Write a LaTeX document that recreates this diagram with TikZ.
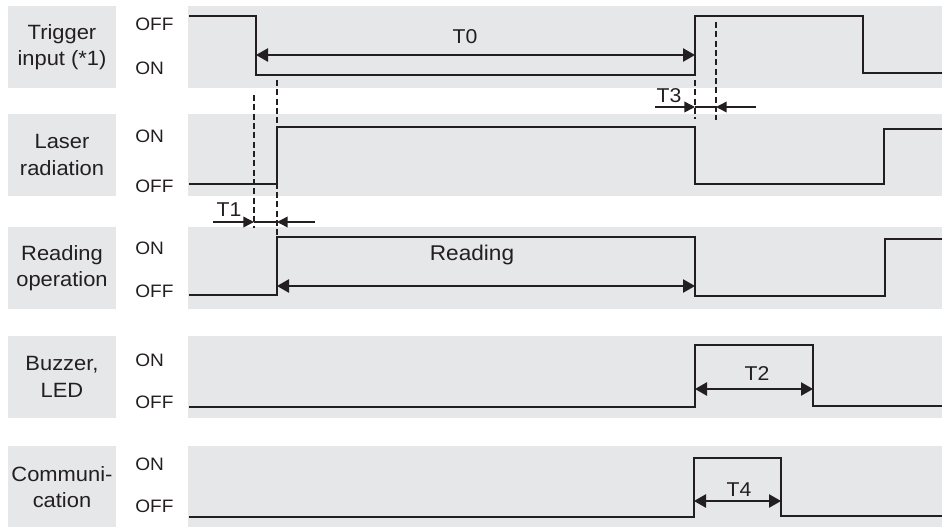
\documentclass[tikz,border=0pt]{standalone}
\usepackage{fontspec}
\setmainfont{Liberation Sans}[FakeStretch=1.06]
\usetikzlibrary{arrows.meta}
\definecolor{panel}{HTML}{E6E7E8}
\definecolor{ink}{HTML}{231F20}
\begin{document}
\begin{tikzpicture}[x=0.75pt,y=-0.75pt,
  panelbox/.style={fill=panel,draw=none},
  lbl/.style={fill=panel,minimum width=81pt,minimum height=61.5pt,align=center,
    font=\fontsize{15.5}{20}\selectfont,inner sep=0pt,text=ink},
  lvl/.style={anchor=west,inner sep=0pt,font=\fontsize{13.5}{15}\selectfont,text=ink},
  wave/.style={draw=ink,line width=1.5pt,line join=miter},
  tipd/.style={{Triangle[length=9pt,width=10pt]}-{Triangle[length=9pt,width=10pt]}},
  dim/.style={draw=ink,line width=1.1pt},
  guide/.style={draw=ink,line width=1pt,dash pattern=on 4.5pt off 2.5pt},
  tlab/.style={inner sep=0pt,font=\fontsize{15}{17}\selectfont,text=ink}]
\useasboundingbox (0,0) rectangle (942,526);

% row label boxes
\node[lbl] (l1) at (62,47)  {Trigger\\input (*1)};
\node[lbl] (l2) at (62,155) {Laser\\radiation};
\node[lbl] (l3) at (62,268) {Reading\\operation};
\node[lbl] (l4) at (62,377) {Buzzer,\\LED};
\node[lbl] (l5) at (62,487) {Communi-\\cation};

% signal panels
\path[panelbox] (188,6) rectangle (942,88);
\path[panelbox] (188,114) rectangle (942,196);
\path[panelbox] (188,227) rectangle (942,309);
\path[panelbox] (188,336) rectangle (942,418);
\path[panelbox] (188,446) rectangle (942,528);

% level labels
\node[lvl] (o1a) at (135,24)  {OFF};
\node[lvl] (o1b) at (135,68)  {ON};
\node[lvl] (o2a) at (135,136) {ON};
\node[lvl] (o2b) at (135,186) {OFF};
\node[lvl] (o3a) at (135,248) {ON};
\node[lvl] (o3b) at (135,291) {OFF};
\node[lvl] (o4a) at (135,360) {ON};
\node[lvl] (o4b) at (135,402) {OFF};
\node[lvl] (o5a) at (135,464) {ON};
\node[lvl] (o5b) at (135,506) {OFF};

% guide (dashed) lines
\coordinate (g1t) at (254,95);  \coordinate (g1b) at (254,228);
\coordinate (g2t) at (277,80);  \coordinate (g2b) at (277,238);
\coordinate (g3t) at (695,80);  \coordinate (g3b) at (695,119);
\coordinate (g4t) at (716,22);  \coordinate (g4b) at (716,120);
\draw[guide] (g1t) -- (g1b);
\draw[guide] (g2t) -- (g2b);
\draw[guide] (g3t) -- (g3b);
\draw[guide] (g4t) -- (g4b);

% waveforms
\draw[wave] (189,16) -- (256,16) -- (256,75) -- (695,75) -- (695,16) -- (863,16) -- (863,73) -- (942,73);
\draw[wave] (189,184) -- (277,184) -- (277,127) -- (695,127) -- (695,184) -- (884,184) -- (884,129) -- (942,129);
\draw[wave] (189,295) -- (277,295) -- (277,237) -- (695,237) -- (695,296) -- (885,296) -- (885,239) -- (942,239);
\draw[wave] (189,407) -- (695,407) -- (695,345) -- (813,345) -- (813,406) -- (942,406);
\draw[wave] (189,517) -- (694,517) -- (694,458) -- (781,458) -- (781,516) -- (942,516);

% T0
\coordinate (t0a) at (256,55); \coordinate (t0b) at (695,55);
\draw[dim,tipd] (t0a) -- (t0b);
\node[tlab] (t0) at (465,37) {T0};

% Reading
\coordinate (rda) at (277,286); \coordinate (rdb) at (695,286);
\draw[dim,tipd] (rda) -- (rdb);
\node[tlab,font=\fontsize{16}{18}\selectfont] (rd) at (472,255) {Reading};

% T2
\coordinate (t2a) at (695,389); \coordinate (t2b) at (813,389);
\draw[dim,tipd] (t2a) -- (t2b);
\node[tlab] (t2) at (757,374) {T2};

% T4
\coordinate (t4a) at (694,501); \coordinate (t4b) at (781,501);
\draw[dim,tipd] (t4a) -- (t4b);
\node[tlab] (t4) at (739,490) {T4};

% T1
\coordinate (t1l) at (213,222); \coordinate (t1a) at (254,222);
\coordinate (t1b) at (277,222); \coordinate (t1r) at (315,222);
\draw[dim,-{Triangle[length=8pt,width=8pt]}] (t1l) -- (t1a);
\draw[dim] (t1a) -- (t1b);
\draw[dim,-{Triangle[length=8pt,width=8pt]}] (t1r) -- (t1b);
\node[tlab] (t1) at (229,210) {T1};

% T3
\coordinate (t3l) at (655,107); \coordinate (t3a) at (695,107);
\coordinate (t3b) at (716,107); \coordinate (t3r) at (756,107);
\draw[dim,-{Triangle[length=8pt,width=8pt]}] (t3l) -- (t3a);
\draw[dim] (t3a) -- (t3b);
\draw[dim,-{Triangle[length=8pt,width=8pt]}] (t3r) -- (t3b);
\node[tlab] (t3) at (669,96) {T3};
\end{tikzpicture}
\end{document}
